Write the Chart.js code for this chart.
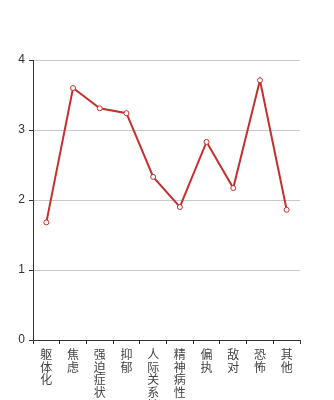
<!DOCTYPE html>
<html>
<head>
<meta charset="utf-8">
<script src="https://cdn.jsdelivr.net/npm/chart.js@4/dist/chart.umd.min.js"></script>
<style>
  body { margin: 0; background: #fff; }
  canvas { display: block; }
</style>
</head>
<body>
<canvas id="chart" width="334" height="400"></canvas>
<script>
// categories and scores
const categories = ['躯体化', '焦虑', '强迫症状', '抑郁', '人际关系敏感', '精神病性', '偏执', '敌对', '恐怖', '其他'];
const scores = [1.68, 3.60, 3.31, 3.24, 2.33, 1.90, 2.83, 2.17, 3.71, 1.86];
const yTicks = [0, 1, 2, 3, 4];

// each label is written top to bottom, one character per line
const verticalLabels = categories.map(c => c.split(''));

const ctx = document.getElementById('chart').getContext('2d');

new Chart(ctx, {
    type: 'line',
    data: {
        labels: verticalLabels,
        datasets: [{
            data: scores,
            borderColor: '#c4302e',
            borderWidth: 2,
            pointRadius: 2.5,
            pointBorderWidth: 1,
            pointBackgroundColor: '#ffffff',
            pointBorderColor: '#c4302e',
            tension: 0
        }]
    },
    options: {
        responsive: false,
        animation: false,
        layout: {
            padding: { top: 60, right: 34, left: 0, bottom: 0 }
        },
        plugins: {
            legend: { display: false },
            tooltip: { enabled: false }
        },
        scales: {
            x: {
                offset: true,
                grid: {
                    offset: true,
                    drawOnChartArea: false,
                    drawTicks: true,
                    tickLength: 4,
                    color: '#333'
                },
                border: { color: '#333', width: 1 },
                ticks: {
                    autoSkip: false,
                    maxRotation: 0,
                    minRotation: 0,
                    padding: 4,
                    color: '#444',
                    font: { family: '"Noto Sans CJK SC", sans-serif', size: 12, lineHeight: 1.06 }
                },
                afterFit: scale => { scale.height = 60; }
            },
            y: {
                min: 0,
                max: 4,
                afterBuildTicks: scale => { scale.ticks = yTicks.map(v => ({ value: v })); },
                grid: {
                    color: '#c8c8c8',
                    tickColor: '#333',
                    tickLength: 4,
                    drawTicks: true
                },
                border: { color: '#333', width: 1 },
                ticks: {
                    padding: 4,
                    color: '#333',
                    font: { family: '"Liberation Sans", Arial, sans-serif', size: 12 }
                },
                afterFit: scale => { scale.width = 33; }
            }
        }
    }
});
</script>
</body>
</html>
